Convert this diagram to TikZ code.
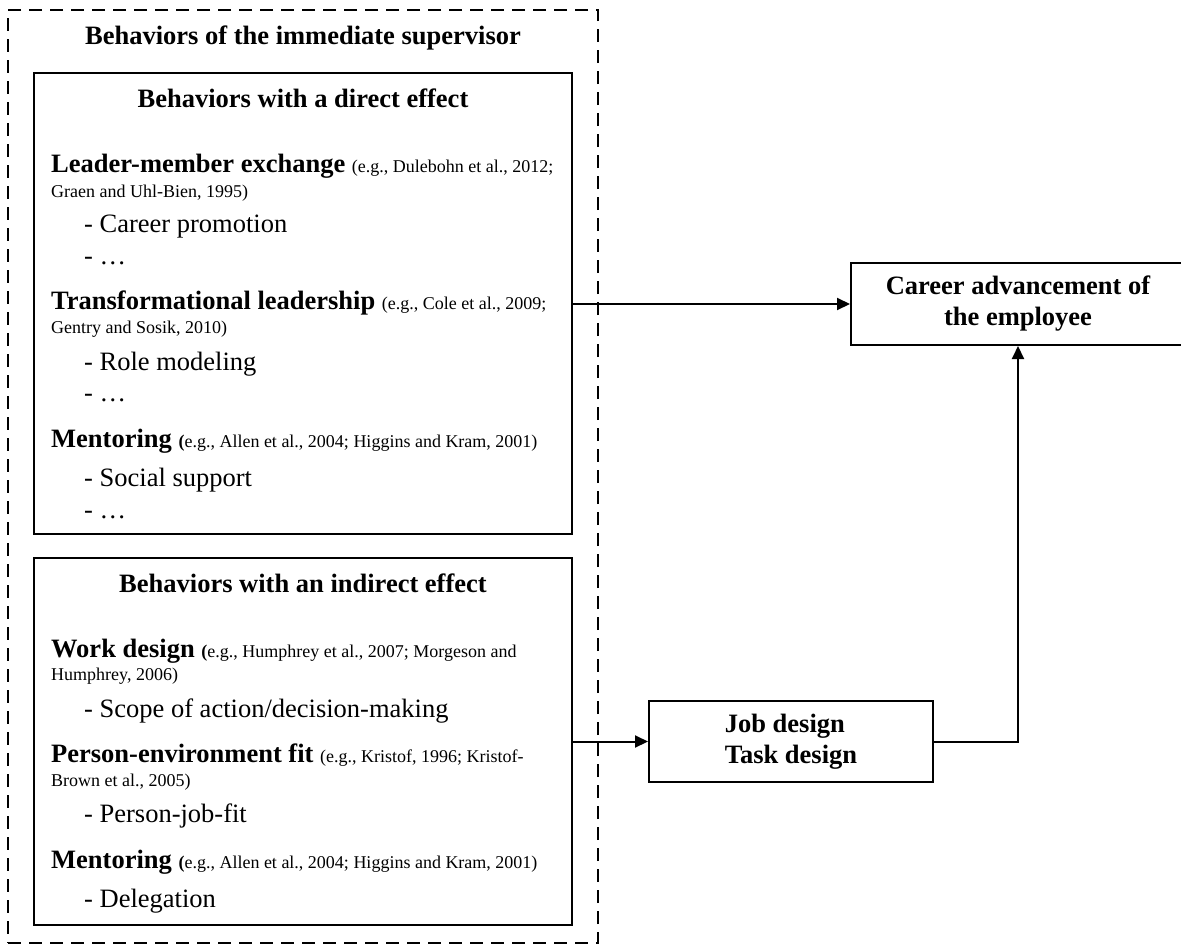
\documentclass[tikz,border=0pt]{standalone}
\usepackage{fontspec}
\setmainfont{Liberation Serif}
\usepackage{tikz}
\usetikzlibrary{positioning}
\usetikzlibrary{arrows.meta}

\newcommand{\mainsize}{\fontsize{26.5}{31}\selectfont}
\newcommand{\citesize}{\fontsize{18}{21}\selectfont}

\tikzset{
    box/.style={draw, line width=2pt, inner sep=0pt},
    txt/.style={anchor=base west, inner sep=0pt, font=\mainsize},
    ttl/.style={anchor=base, inner sep=0pt, font=\mainsize\bfseries},
    conn/.style={line width=2pt, -{Triangle[length=13pt,width=12pt]}}
}

\begin{document}
\begin{tikzpicture}[x=1pt,y=-1pt]
        \useasboundingbox (0,0) rectangle (1181,945);

        \node[box, dash pattern=on 13pt off 8pt, minimum width=590pt, minimum height=933pt] (sup) at (303,476.5) {};
        \node[box, minimum width=538pt, minimum height=461pt] (direct) at (303,303.5) {};
        \node[box, minimum width=538pt, minimum height=367pt] (indirect) at (303,741.5) {};
        \node[box, minimum width=334pt, minimum height=82pt, font=\mainsize\bfseries, align=center] (career) at (1018,304) {Career advancement of\\the employee};
        \node[box, minimum width=284pt, minimum height=81pt, font=\mainsize\bfseries, align=left] (job) at (791,741.5) {Job design\\Task design};

        \node[ttl] (t-sup) at (303,44) {Behaviors of the immediate supervisor};
        \node[ttl] (t-dir) at (303,107) {Behaviors with a direct effect};
        \node[ttl] (t-ind) at (303,592) {Behaviors with an indirect effect};

        \node[txt] (lmx)      at (51,172) {\textbf{Leader-member exchange} {\citesize (e.g., Dulebohn et al., 2012;}};
        \node[txt] (lmx-ref)  at (51,197) {\citesize Graen and Uhl-Bien, 1995)};
        \node[txt] (lmx-a)    at (84,232) {- Career promotion};
        \node[txt] (lmx-b)    at (84,264) {- …};
        \node[txt] (tfl)      at (51,309) {\textbf{Transformational leadership} {\citesize (e.g., Cole et al., 2009;}};
        \node[txt] (tfl-ref)  at (51,333) {\citesize Gentry and Sosik, 2010)};
        \node[txt] (tfl-a)    at (84,370) {- Role modeling};
        \node[txt] (tfl-b)    at (84,401) {- …};
        \node[txt] (mnt)      at (51,447) {\textbf{Mentoring} {\citesize\textbf{(}e.g., Allen et al., 2004; Higgins and Kram, 2001)}};
        \node[txt] (mnt-a)    at (84,486) {- Social support};
        \node[txt] (mnt-b)    at (84,518) {- …};

        \node[txt] (wd)       at (51,657) {\textbf{Work design} {\citesize\textbf{(}e.g., Humphrey et al., 2007; Morgeson and}};
        \node[txt] (wd-ref)   at (51,680) {\citesize Humphrey, 2006)};
        \node[txt] (wd-a)     at (84,717) {- Scope of action/decision-making};
        \node[txt] (pef)      at (51,762) {\textbf{Person-environment fit} {\citesize (e.g., Kristof, 1996; Kristof-}};
        \node[txt] (pef-ref)  at (51,786) {\citesize Brown et al., 2005)};
        \node[txt] (pef-a)    at (84,822) {- Person-job-fit};
        \node[txt] (mnt2)     at (51,868) {\textbf{Mentoring} {\citesize\textbf{(}e.g., Allen et al., 2004; Higgins and Kram, 2001)}};
        \node[txt] (mnt2-a)   at (84,907) {- Delegation};

        \draw[conn] (direct.east |- career.west) -- (career.west);
        \draw[conn] (indirect.east |- job.west) -- (job.west);
        \draw[conn] (job.east) -| (career.south);

\end{tikzpicture}
\end{document}
